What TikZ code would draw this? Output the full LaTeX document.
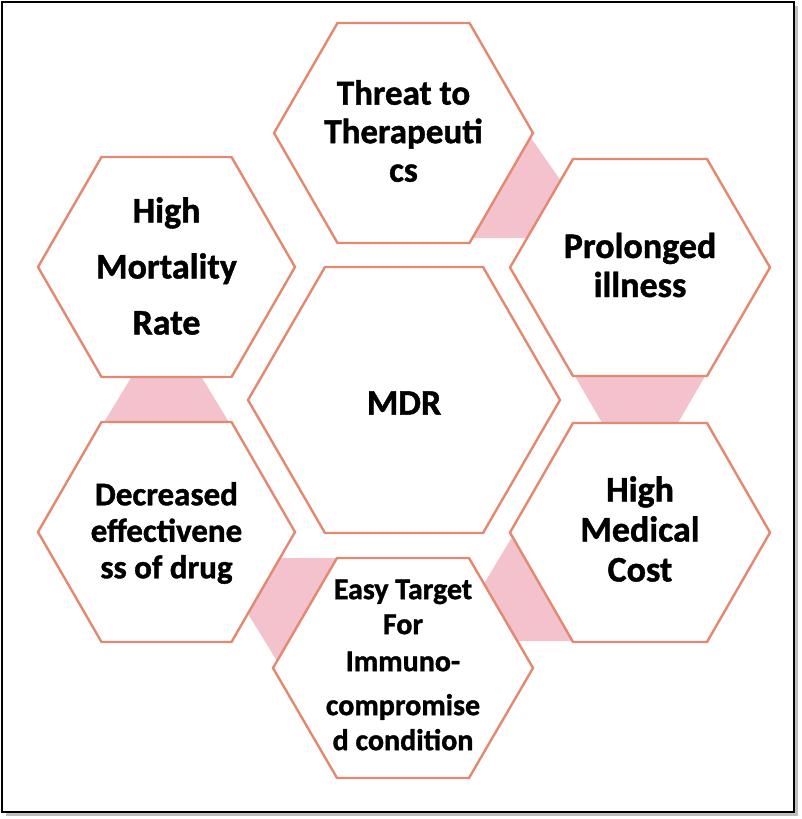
\documentclass[tikz,border=0pt]{standalone}
\usepackage{fontspec}
\setmainfont{Carlito}[BoldFeatures={FakeBold=1.2}]
\definecolor{hexline}{RGB}{228,136,112}
\definecolor{linkpink}{RGB}{244,194,205}
\newcommand\hexa[6]{%
  \draw[hex,shift={(#2,#3)}] (-#4,0) -- (-#6,-#5) -- (#6,-#5) -- (#4,0) -- (#6,#5) -- (-#6,#5) -- cycle;
  \coordinate (#1) at (#2,#3);}
\begin{document}
\begin{tikzpicture}[x=1pt,y=-1pt,
  hex/.style={draw=hexline, line width=2.4pt, fill=white, line join=miter},
  link/.style={fill=linkpink},
  lbl/.style={font=\bfseries\fontsize{36}{39}\selectfont, align=center, inner sep=0pt, text=black}]
\useasboundingbox (0,0) rectangle (801,819);
% frame with shadow
\fill[gray!50] (6,6) rectangle (798,816);
\draw[line width=1.5pt, fill=white] (2,2) rectangle (794,812);
% pink links
\fill[link] (531,138) -- (561,181) -- (530,238) -- (465,238) -- cycle;
\fill[link] (572.5,372) -- (707.5,372) -- (675,428) -- (605,428) -- cycle;
\fill[link] (134.5,372) -- (198.5,372) -- (232.5,428) -- (100.5,428) -- cycle;
\fill[link] (280,558) -- (345,558) -- (279,664) -- (248,614) -- cycle;
\fill[link] (512,537) -- (482,587) -- (514,641) -- (575,641) -- cycle;
% hexagons
\hexa{hT}{403.5}{133}{129.5}{110}{66}
\hexa{hM}{166.5}{267}{128.5}{110}{65}
\hexa{hP}{640}{267.5}{130}{108.5}{67}
\hexa{hC}{404}{400}{156}{133}{79}
\hexa{hD}{166.5}{532}{128.5}{110}{65}
\hexa{hH}{640}{532.5}{130}{109.5}{67}
\hexa{hE}{403}{668}{130}{110}{66}
% labels
\node[lbl, font=\bfseries\fontsize{35}{38.5}\selectfont] (tT) at (403.5,131) {Threat to\\Therapeuti\\cs};
\node[lbl, font=\bfseries\fontsize{36}{56}\selectfont] (tM) at (166.5,266) {High\\Mortality\\Rate};
\node[lbl] (tP) at (640,265) {Prolonged\\illness};
\node[lbl] (tC) at (404,403) {MDR};
\node[lbl, font=\bfseries\fontsize{33}{36.5}\selectfont] (tD) at (166.5,533) {Decreased\\effectivene\\ss of drug};
\node[lbl, font=\bfseries\fontsize{36}{40}\selectfont] (tH) at (640,529) {High\\Medical\\Cost};
\node[lbl, font=\bfseries\fontsize{30}{36}\selectfont] (tE) at (403,665) {Easy Target\\[-1pt]For\\[1pt]Immuno-\\[8pt]compromise\\[-1pt]d condition};
\end{tikzpicture}
\end{document}
